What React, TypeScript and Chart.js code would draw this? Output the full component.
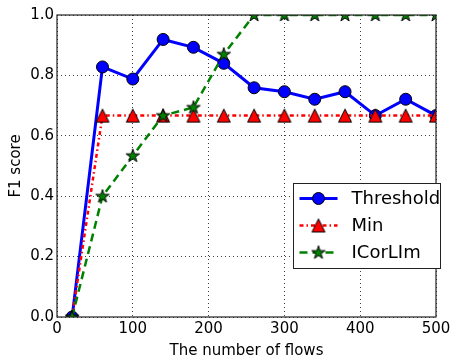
import React, { useEffect, useRef } from 'react';
import { Chart, registerables } from 'chart.js';

Chart.register(...registerables);

const flows = [20, 60, 100, 140, 180, 220, 260, 300, 340, 380, 420, 460, 500];
const threshold = [0, 0.828, 0.788, 0.919, 0.893, 0.84, 0.759, 0.746, 0.721, 0.746, 0.667, 0.721, 0.667];
const minSeries = [0, 0.667, 0.667, 0.667, 0.667, 0.667, 0.667, 0.667, 0.667, 0.667, 0.667, 0.667, 0.667];
const icorlim = [0, 0.4, 0.534, 0.667, 0.694, 0.87, 1, 1, 1, 1, 1, 1, 1];
const seriesNames = ['Threshold', 'Min', 'ICorLIm'];
const xLabel = 'The number of flows';
const yLabel = 'F1 score';

const FONT = 'DejaVu Sans';
const BLUE = '#0000ff';
const RED = '#ff0000';
const GREEN = '#008000';

function makeTriangle(fill: string): HTMLCanvasElement {
  const c = document.createElement('canvas');
  c.width = 16;
  c.height = 16;
  const g = c.getContext('2d')!;
  const cx = 8, cy = 8, h = 6.5;
  g.beginPath();
  g.moveTo(cx, cy - h);
  g.lineTo(cx - h, cy + h);
  g.lineTo(cx + h, cy + h);
  g.closePath();
  g.fillStyle = fill;
  g.fill();
  g.lineWidth = 1;
  g.strokeStyle = '#000';
  g.stroke();
  return c;
}

function makeStar(fill: string): HTMLCanvasElement {
  const c = document.createElement('canvas');
  c.width = 18;
  c.height = 18;
  const g = c.getContext('2d')!;
  const cx = 9, cy = 9.3, R = 7, r = R * 0.381966;
  g.beginPath();
  for (let i = 0; i < 10; i++) {
    const rad = i % 2 === 0 ? R : r;
    const a = -Math.PI / 2 + (i * Math.PI) / 5;
    const x = cx + rad * Math.cos(a);
    const y = cy + rad * Math.sin(a);
    if (i === 0) g.moveTo(x, y);
    else g.lineTo(x, y);
  }
  g.closePath();
  g.fillStyle = fill;
  g.fill();
  g.lineWidth = 1;
  g.strokeStyle = '#000';
  g.stroke();
  return c;
}

export default function App() {
  const ref = useRef<HTMLCanvasElement>(null);

  useEffect(() => {
    document.body.style.margin = '0';
    const canvas = ref.current!;
    const tri = makeTriangle(RED);
    const star = makeStar(GREEN);

    const boxPlugin = {
      id: 'boxAndLegend',
      afterDatasetsDraw(chart: any) {
        const { ctx, chartArea: ca } = chart;
        ctx.save();
        ctx.lineWidth = 1.2;
        ctx.strokeStyle = '#222';
        ctx.strokeRect(ca.left, ca.top, ca.right - ca.left, ca.bottom - ca.top);
        ctx.restore();
      },
      afterDraw(chart: any) {
        const { ctx, chartArea: ca } = chart;
        const bx = Math.round(ca.right - 143) + 0.5;
        const by = Math.round(ca.bottom - 134) + 0.5;
        const bw = 147, bh = 85;
        ctx.save();
        ctx.fillStyle = '#fff';
        ctx.fillRect(bx, by, bw, bh);
        ctx.lineWidth = 1;
        ctx.strokeStyle = '#222';
        ctx.strokeRect(bx, by, bw, bh);
        const styles = [
          { color: BLUE, width: 3, dash: [] as number[] },
          { color: RED, width: 2.5, dash: [4, 3, 1.5, 3] },
          { color: GREEN, width: 2.5, dash: [8, 5] },
        ];
        for (let i = 0; i < 3; i++) {
          const y = by + 15 + i * 27;
          const s = styles[i];
          ctx.beginPath();
          ctx.setLineDash(s.dash);
          ctx.lineWidth = s.width;
          ctx.strokeStyle = s.color;
          ctx.moveTo(bx + 6, y);
          ctx.lineTo(bx + 44, y);
          ctx.stroke();
          ctx.setLineDash([]);
          const mx = bx + 25;
          if (i === 0) {
            ctx.beginPath();
            ctx.arc(mx, y, 6, 0, Math.PI * 2);
            ctx.fillStyle = BLUE;
            ctx.fill();
            ctx.lineWidth = 1;
            ctx.strokeStyle = '#000';
            ctx.stroke();
          } else if (i === 1) {
            ctx.drawImage(tri, mx - tri.width / 2, y - tri.height / 2);
          } else {
            ctx.drawImage(star, mx - star.width / 2, y - star.height / 2);
          }
          ctx.fillStyle = '#000';
          ctx.font = `18px "${FONT}"`;
          ctx.textBaseline = 'middle';
          ctx.textAlign = 'left';
          ctx.fillText(seriesNames[i], bx + 58, y + 1);
        }
        ctx.restore();
      },
    };

    const tickFont = { family: FONT, size: 15 };
    const gridOpts = { color: 'rgba(0,0,0,0.75)', lineWidth: 1, drawTicks: false };

    const chart = new Chart(canvas, {
      type: 'line',
      data: {
        datasets: [
          {
            label: seriesNames[0],
            data: flows.map((x, i) => ({ x, y: threshold[i] })),
            borderColor: BLUE,
            borderWidth: 3,
            pointStyle: 'circle',
            pointRadius: 6,
            pointBackgroundColor: BLUE,
            pointBorderColor: '#000',
            pointBorderWidth: 1,
            tension: 0,
            clip: 0,
            order: 2,
          },
          {
            label: seriesNames[1],
            data: flows.map((x, i) => ({ x, y: minSeries[i] })),
            borderColor: RED,
            borderWidth: 2.5,
            borderDash: [4, 3, 1.5, 3],
            pointStyle: tri,
            pointRadius: 6,
            tension: 0,
            clip: 0,
            order: 1,
          },
          {
            label: seriesNames[2],
            data: flows.map((x, i) => ({ x, y: icorlim[i] })),
            borderColor: GREEN,
            borderWidth: 2.5,
            borderDash: [8, 5],
            pointStyle: star,
            pointRadius: 6,
            tension: 0,
            clip: 0,
            order: 0,
          },
        ],
      } as any,
      options: {
        responsive: false,
        animation: false,
        devicePixelRatio: 1,
        layout: { padding: { top: 15, right: 15, left: 0, bottom: 0 } },
        plugins: { legend: { display: false }, tooltip: { enabled: false } },
        events: [],
        scales: {
          x: {
            type: 'linear',
            min: 0,
            max: 500,
            ticks: { stepSize: 100, padding: 3, font: tickFont, color: '#000', maxRotation: 0 },
            grid: gridOpts,
            border: { display: false, dash: [1, 3] },
            title: { display: true, text: xLabel, font: tickFont, color: '#000', padding: { top: 0, bottom: 2 } },
            afterFit: (s: any) => {
              s.height = 45;
              s.paddingLeft = 0;
              s.paddingRight = 0;
            },
          },
          y: {
            type: 'linear',
            min: 0,
            max: 1,
            ticks: {
              stepSize: 0.2,
              padding: 3,
              font: tickFont,
              color: '#000',
              callback: (v: any) => Number(v).toFixed(1),
            },
            grid: gridOpts,
            border: { display: false, dash: [1, 3] },
            title: { display: true, text: yLabel, font: tickFont, color: '#000', padding: { top: 7, bottom: 0 } },
            afterFit: (s: any) => {
              s.width = 57;
              s.paddingTop = 0;
              s.paddingBottom = 0;
            },
          },
        },
      } as any,
      plugins: [boxPlugin],
    });
    return () => chart.destroy();
  }, []);

  return <canvas ref={ref} width={451} height={362} style={{ display: 'block' }} />;
}
